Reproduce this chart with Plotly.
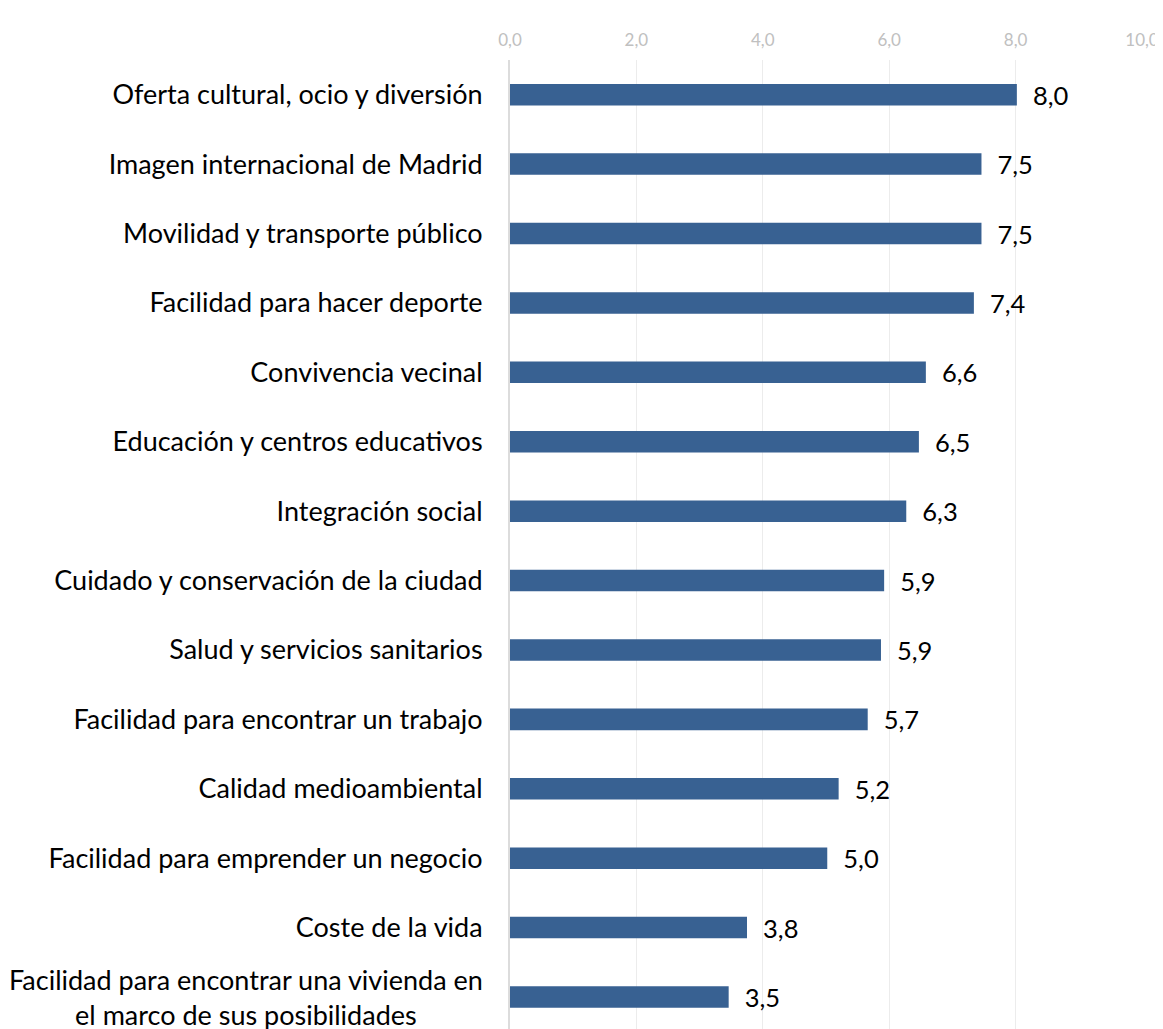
import plotly.graph_objects as go

categorias = [
    "Oferta cultural, ocio y diversión",
    "Imagen internacional de Madrid",
    "Movilidad y transporte público",
    "Facilidad para hacer deporte",
    "Convivencia vecinal",
    "Educación y centros educativos",
    "Integración social",
    "Cuidado y conservación de la ciudad",
    "Salud y servicios sanitarios",
    "Facilidad para encontrar un trabajo",
    "Calidad medioambiental",
    "Facilidad para emprender un negocio",
    "Coste de la vida",
    "Facilidad para encontrar una vivienda en<br>el marco de sus posibilidades",
]
valores = [8.02, 7.46, 7.46, 7.34, 6.58, 6.47, 6.27, 5.92, 5.87, 5.66, 5.20, 5.02, 3.75, 3.46]
etiquetas = ["8,0", "7,5", "7,5", "7,4", "6,6", "6,5", "6,3", "5,9", "5,9", "5,7", "5,2", "5,0", "3,8", "3,5"]
ticks_x = [0, 2, 4, 6, 8, 10]
ticks_x_txt = ["0,0", "2,0", "4,0", "6,0", "8,0", "10,0"]

FONT = "Lato, 'Open Sans', sans-serif"

# ids internos para que la etiqueta de dos líneas se pueda dibujar aparte
ids = [f"c{i}" for i in range(len(categorias))]
textos_eje = categorias[:-1] + [""]

fig = go.Figure()
fig.add_trace(go.Bar(
    x=valores,
    y=ids,
    orientation="h",
    marker=dict(color="#386192", line=dict(width=0)),
    width=0.31,
    text=["\u00a0\u00a0" + t for t in etiquetas],
    textposition="outside",
    constraintext="none",
    textfont=dict(size=25.5, color="black", family=FONT),
    cliponaxis=False,
    hoverinfo="skip",
))

# etiqueta de dos líneas centrada
fig.add_annotation(
    x=-0.04, xref="paper", xanchor="right",
    y=ids[-1], yref="y", yanchor="middle",
    text=categorias[-1], showarrow=False, align="center",
    font=dict(size=27, color="black", family=FONT),
)

# el body de la página añade 8 px arriba y a la izquierda
fig.update_layout(
    width=1155, height=1025,
    margin=dict(l=502, r=21, t=52, b=0),
    paper_bgcolor="white", plot_bgcolor="white",
    showlegend=False,
    font=dict(family=FONT),
    xaxis=dict(
        side="top", range=[0, 10],
        tickvals=ticks_x, ticktext=ticks_x_txt,
        tickfont=dict(size=17, color="#c0c0c0"),
        ticklabelstandoff=10,
        showgrid=True, gridcolor="#ececec", gridwidth=1,
        zeroline=False, showline=False, ticks="",
        fixedrange=True,
    ),
    yaxis=dict(
        autorange="reversed",
        tickvals=ids, ticktext=textos_eje,
        tickfont=dict(size=27, color="black"),
        ticks="outside", ticklen=20, tickcolor="rgba(0,0,0,0)",
        showline=True, linecolor="#dcdcdc", linewidth=2,
        showgrid=False, fixedrange=True,
    ),
)

fig.write_html("out.html")
